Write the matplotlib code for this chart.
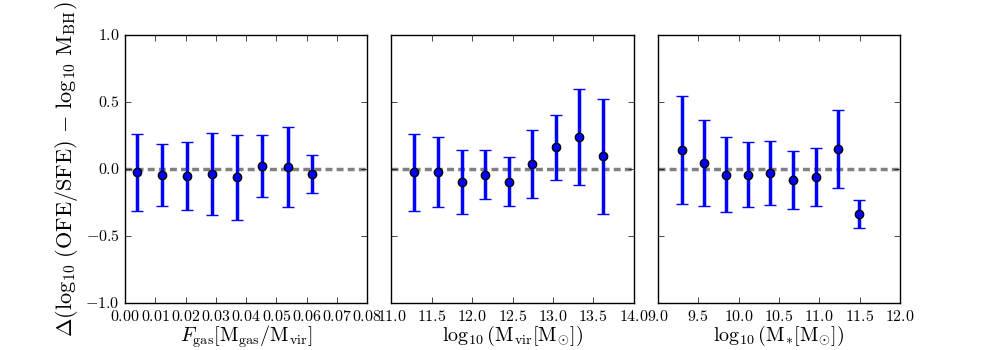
import numpy as np
import matplotlib
matplotlib.use("Agg")
import matplotlib.pyplot as plt

plt.style.use("classic")
plt.rcParams["font.family"] = "cmr10"
plt.rcParams["mathtext.fontset"] = "cm"
plt.rcParams["axes.formatter.use_mathtext"] = True

# Panel 1: gas fraction
fgas = [0.004, 0.0123, 0.0206, 0.0289, 0.0371, 0.0454, 0.0537, 0.0619]
fgas_y = [-0.025, -0.047, -0.055, -0.040, -0.062, 0.020, 0.015, -0.040]
fgas_hi = [0.259, 0.184, 0.199, 0.266, 0.254, 0.251, 0.311, 0.102]
fgas_lo = [-0.313, -0.279, -0.303, -0.346, -0.378, -0.211, -0.286, -0.182]

# Panel 2: virial mass
mvir = [11.285, 11.583, 11.869, 12.154, 12.457, 12.738, 13.040, 13.321, 13.619]
mvir_y = [-0.025, -0.025, -0.100, -0.047, -0.100, 0.037, 0.162, 0.236, 0.095]
mvir_hi = [0.259, 0.236, 0.139, 0.139, 0.087, 0.289, 0.405, 0.594, 0.520]
mvir_lo = [-0.313, -0.284, -0.336, -0.224, -0.276, -0.216, -0.085, -0.119, -0.336]

# Panel 3: stellar mass
mstar = [9.298, 9.577, 9.850, 10.118, 10.392, 10.674, 10.956, 11.229, 11.494]
mstar_y = [0.139, 0.042, -0.047, -0.047, -0.032, -0.085, -0.062, 0.147, -0.338]
mstar_hi = [0.542, 0.366, 0.236, 0.199, 0.206, 0.132, 0.157, 0.440, -0.234]
mstar_lo = [-0.261, -0.279, -0.323, -0.284, -0.269, -0.301, -0.279, -0.144, -0.443]

panels = [
    (fgas, fgas_y, fgas_hi, fgas_lo, (0.0, 0.08),
     r"$F_{\rm gas}[\mathrm{M_{gas}/M_{vir}}]$"),
    (mvir, mvir_y, mvir_hi, mvir_lo, (11.0, 14.0),
     r"$\log_{10}(\mathrm{M_{vir}[M_{\odot}]})$"),
    (mstar, mstar_y, mstar_hi, mstar_lo, (9.0, 12.0),
     r"$\log_{10}(\mathrm{M_{*}[M_{\odot}]})$"),
]

fig, axes = plt.subplots(1, 3, figsize=(10, 3.5), dpi=100, sharey=True)
fig.subplots_adjust(left=0.125, right=0.9, bottom=0.134, top=0.9, wspace=0.1)

for ax, (x, y, hi, lo, xlim, xlabel) in zip(axes, panels):
    x = np.array(x)
    y = np.array(y)
    yerr = [y - np.array(lo), np.array(hi) - y]
    ax.axhline(0, color="gray", ls="--", lw=2.5, dashes=(5, 3), zorder=1)
    ax.errorbar(x, y, yerr=yerr, fmt="o", color="b", ecolor="b", mfc="b",
                mec="k", mew=1, ms=6, elinewidth=2.5, capsize=4, capthick=1.5,
                zorder=3)
    ax.set_xlim(*xlim)
    ax.set_ylim(-1.0, 1.0)
    ax.set_xlabel(xlabel, fontsize=14.5, labelpad=0)
    ax.tick_params(labelsize=11.5)

axes[0].set_xticks(np.arange(0, 0.081, 0.01))
axes[0].set_yticks([-1.0, -0.5, 0.0, 0.5, 1.0])
axes[0].set_ylabel(r"$\Delta(\log_{10}\,(\mathrm{OFE/SFE})\,-\,\log_{10}\,\mathrm{M_{BH}})$",
                   fontsize=16, labelpad=4)

fig.savefig("out.png", dpi=100)
